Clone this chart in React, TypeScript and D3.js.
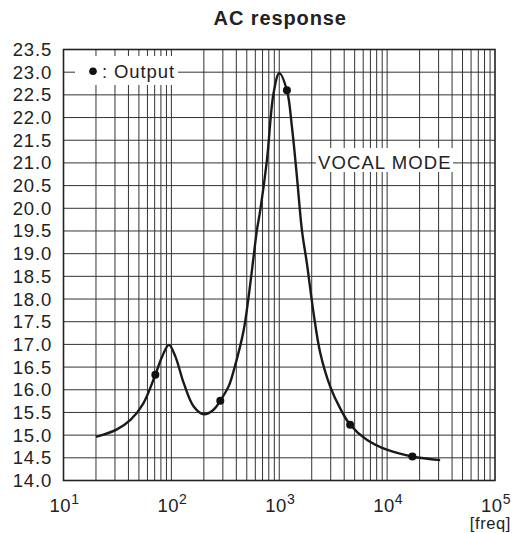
import React from "react";
import * as d3 from "d3";

const TITLE = "AC response";
const LEGEND_LABEL = ": Output";
const NOTE = "VOCAL MODE";
const X_UNIT = "[freq]";

const yTicks = [14.0, 14.5, 15.0, 15.5, 16.0, 16.5, 17.0, 17.5, 18.0, 18.5, 19.0, 19.5, 20.0, 20.5, 21.0, 21.5, 22.0, 22.5, 23.0, 23.5];
const xDecades = [1, 2, 3, 4, 5];

const curveFreq = [20, 31, 42, 55, 71, 82, 95, 109, 130, 161, 199, 246, 284, 340, 378, 467, 520, 578, 621, 667, 769, 885, 1000, 1178, 1310, 1458, 1622, 1803, 2080, 2400, 2967, 3673, 4540, 6480, 9930, 17150, 31000];
const curveVal = [14.96, 15.12, 15.34, 15.7, 16.33, 16.73, 16.99, 16.73, 16.15, 15.63, 15.46, 15.56, 15.76, 16.08, 16.42, 17.3, 18.05, 18.93, 19.52, 19.96, 21.06, 22.53, 22.98, 22.6, 21.8, 20.7, 19.52, 18.79, 17.69, 16.81, 16.07, 15.59, 15.23, 14.9, 14.68, 14.53, 14.45];

const markerFreq = [71, 284, 1178, 4540, 17150];
const markerVal = [16.33, 15.76, 22.6, 15.23, 14.53];

const W = 519, H = 533;
const L = 63.5, R = 495, T = 49.5, B = 480.5;

export default function App() {
  const x = d3.scaleLog().domain([10, 100000]).range([L, R]);
  const y = d3.scaleLinear().domain([14, 23.5]).range([B, T]);

  const minor: number[] = [];
  for (let e = 1; e < 5; e++) {
    for (let m = 1; m <= 9; m++) {
      const v = m * Math.pow(10, e);
      if (v > 10 && v < 100000) minor.push(v);
    }
  }

  const pts: [number, number][] = curveFreq.map((f, i) => [x(f), y(curveVal[i])]);
  const line = d3.line().curve(d3.curveCatmullRom.alpha(0.5))(pts) || "";

  const font = "'Liberation Sans', Arial, Helvetica, sans-serif";
  const gridColor = "#333";

  return (
    <svg width={W} height={H} style={{ position: "absolute", left: 0, top: 0, background: "#fff" }} fontFamily={font}>
      <rect x={0} y={0} width={W} height={H} fill="#fff" />
      <text x={(L + R) / 2 + 1} y={25} textAnchor="middle" fontSize={20} fontWeight="bold" letterSpacing={0.9} fill="#222">{TITLE}</text>
      {/* grid */}
      {yTicks.map((t) => (
        <line key={"h" + t} x1={L} x2={R} y1={y(t)} y2={y(t)} stroke={gridColor} strokeWidth={1} />
      ))}
      {minor.map((v) => (
        <line key={"v" + v} x1={x(v)} x2={x(v)} y1={T} y2={B} stroke={gridColor} strokeWidth={1} />
      ))}
      {/* legend box */}
      <rect x={75} y={56} width={103} height={29} fill="#fff" />
      <circle cx={93} cy={y(23.0) - 1} r={3.8} fill="#111" />
      <text x={102} y={y(23.0) + 6} fontSize={18.5} letterSpacing={0.9} fill="#222">{LEGEND_LABEL}</text>
      {/* note box */}
      <rect x={316} y={148} width={137} height={24} fill="#fff" />
      <text x={318} y={y(21.0) + 6.5} fontSize={18.5} letterSpacing={1.1} fill="#222">{NOTE}</text>
      {/* frame */}
      <rect x={L} y={T} width={R - L} height={B - T} fill="none" stroke="#222" strokeWidth={1.6} />
      {/* curve */}
      <path d={line} fill="none" stroke="#1a1a1a" strokeWidth={2.4} />
      {markerFreq.map((f, i) => (
        <circle key={"m" + f} cx={x(f)} cy={y(markerVal[i])} r={4} fill="#111" />
      ))}
      {/* y labels */}
      {yTicks.map((t) => (
        <text key={"yl" + t} x={52} y={y(t) + 6.5} textAnchor="end" fontSize={18.5} letterSpacing={0.8} fill="#222">{t.toFixed(1)}</text>
      ))}
      {/* x labels */}
      {xDecades.map((e) => (
        <text key={"xl" + e} x={x(Math.pow(10, e)) + 1} y={512} textAnchor="middle" fontSize={18.5} letterSpacing={0.5} fill="#222">
          10<tspan dy={-8} fontSize={14}>{e}</tspan>
        </text>
      ))}
      <text x={511} y={529} textAnchor="end" fontSize={16.5} letterSpacing={0.6} fill="#222">{X_UNIT}</text>
    </svg>
  );
}
